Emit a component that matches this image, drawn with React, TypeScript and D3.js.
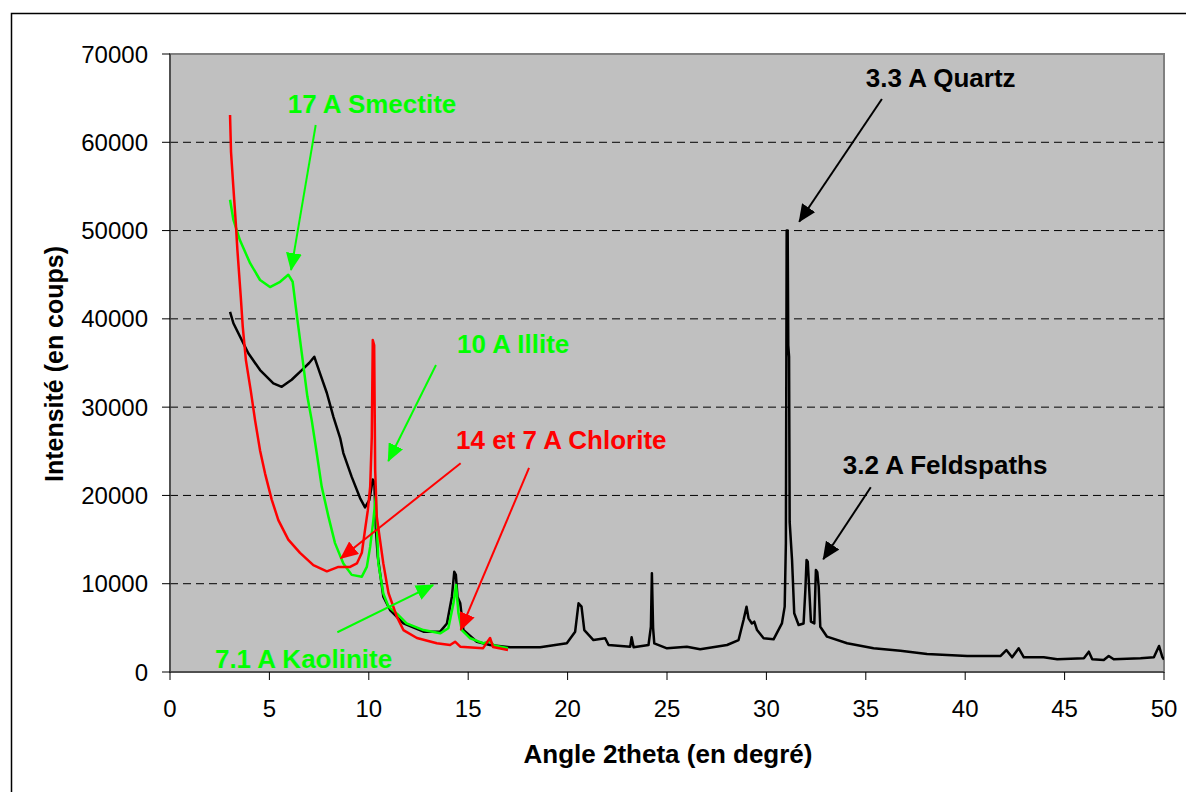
import React from 'react';
import * as d3 from 'd3';

const xTicks = [0, 5, 10, 15, 20, 25, 30, 35, 40, 45, 50];
const yTicks = [0, 10000, 20000, 30000, 40000, 50000, 60000, 70000];

const seriesBlack: [number, number][] = [
  [3.02, 40800], [3.19, 39500], [3.52, 38000], [3.94, 36100], [4.53, 34200], [5.2, 32700], [5.62, 32300],
  [6.12, 33100], [6.63, 34200], [7.0, 35000], [7.26, 35700], [7.55, 33800], [7.89, 31600], [8.22, 28900],
  [8.56, 26500], [8.72, 24800], [9.14, 22100], [9.56, 19700], [9.81, 18650], [10.03, 19500], [10.2, 21800],
  [10.28, 21500], [10.36, 16000], [10.45, 13100], [10.73, 8530], [11.07, 7020], [11.74, 5500], [12.75, 4570],
  [13.59, 4570], [13.93, 5500], [14.18, 8530], [14.3, 11360], [14.38, 11000], [14.46, 8530], [14.6, 7780],
  [14.76, 4750], [15.43, 3430], [16.1, 3060], [17.11, 2800], [18.62, 2800], [19.96, 3250], [20.38, 4570],
  [20.55, 7780], [20.7, 7400], [20.84, 4750], [21.3, 3620], [21.89, 3820], [22.06, 3060], [23.15, 2870],
  [23.22, 3930], [23.32, 2800], [24.07, 3060], [24.19, 5130], [24.24, 11180], [24.3, 5000], [24.36, 3250],
  [25.0, 2680], [26.0, 2870], [26.67, 2570], [28.02, 3060], [28.6, 3620], [28.85, 5890], [29.0, 7400],
  [29.1, 6080], [29.27, 5500], [29.39, 5700], [29.53, 4750], [29.86, 3820], [30.36, 3700], [30.78, 5500],
  [30.92, 7400], [30.98, 14600], [31.02, 50000], [31.07, 50000], [31.1, 37000], [31.14, 35700], [31.17, 17000],
  [31.29, 12700], [31.4, 6650], [31.62, 5320], [31.87, 5500], [31.96, 9290], [32.02, 12690], [32.08, 12500],
  [32.12, 10800], [32.24, 5700], [32.41, 5500], [32.49, 11550], [32.56, 11300], [32.63, 9660], [32.71, 5130],
  [33.05, 4000], [34.06, 3250], [35.39, 2680], [36.74, 2410], [38.08, 2040], [40.1, 1810], [41.77, 1810],
  [42.07, 2490], [42.36, 1660], [42.69, 2680], [42.95, 1660], [43.95, 1660], [44.63, 1440], [45.97, 1550],
  [46.22, 2300], [46.39, 1440], [46.97, 1360], [47.22, 1810], [47.47, 1440], [48.82, 1550], [49.49, 1660],
  [49.75, 2950], [49.91, 1730], [50, 1400],
];

const seriesGreen: [number, number][] = [
  [3.02, 53500], [3.19, 51200], [3.52, 48900], [4.03, 46300], [4.53, 44400], [5.03, 43600], [5.54, 44200],
  [5.95, 45000], [6.17, 44200], [6.37, 40600], [6.63, 36100], [6.91, 31200], [7.13, 28500], [7.38, 24800],
  [7.63, 21000], [7.97, 17600], [8.3, 14600], [8.72, 12300], [9.14, 11000], [9.65, 10800], [9.9, 11900],
  [10.07, 14200], [10.23, 17200], [10.35, 19900], [10.48, 12300], [10.73, 8900], [10.99, 7400], [11.49, 6450],
  [11.9, 5500], [12.75, 4750], [13.59, 4380], [14.0, 4950], [14.26, 7780], [14.39, 9850], [14.51, 6650],
  [14.68, 4750], [15.1, 3820], [15.77, 3250], [16.1, 3500], [16.3, 3000], [17.0, 2680],
];

const seriesRed: [number, number][] = [
  [3.02, 63100], [3.07, 58900], [3.19, 54800], [3.31, 50850], [3.39, 47800], [3.56, 42500], [3.66, 39100],
  [3.82, 35300], [4.06, 31900], [4.28, 28500], [4.53, 25100], [4.78, 22500], [5.12, 19500], [5.45, 17200],
  [5.95, 15000], [6.54, 13500], [7.21, 12100], [7.89, 11400], [8.47, 11900], [9.06, 11900], [9.4, 12300],
  [9.65, 13500], [9.81, 16100], [9.95, 18300], [10.07, 21000], [10.15, 26600], [10.2, 37600], [10.27, 37000],
  [10.32, 22900], [10.4, 17600], [10.73, 12300], [10.99, 8950], [11.41, 6270], [11.74, 4750], [12.42, 3850],
  [13.42, 3250], [14.09, 3060], [14.34, 3430], [14.6, 2870], [15.75, 2700], [16.1, 3850], [16.25, 2830],
  [17.0, 2500],
];

type Note = { text: string; color: string; tx: number; ty: number; arrows: [number, number, number, number][] };
const notes: Note[] = [
  { text: '17 A Smectite', color: '#00FF00', tx: 5.92, ty: 63350, arrows: [[7.33, 61960, 6.09, 45530]] },
  { text: '10 A Illite', color: '#00FF00', tx: 14.44, ty: 36170, arrows: [[13.38, 34770, 10.98, 23900]] },
  { text: '14 et 7 A Chlorite', color: '#FF0000', tx: 14.39, ty: 25220, arrows: [[14.62, 23640, 8.59, 12880], [18.06, 23110, 14.62, 4760]] },
  { text: '7.1 A Kaolinite', color: '#00FF00', tx: 2.26, ty: 490, arrows: [[8.42, 4500, 13.24, 9850]] },
  { text: '3.3 A Quartz', color: '#000000', tx: 35.0, ty: 66230, arrows: [[35.81, 64900, 31.65, 51000]] },
  { text: '3.2 A Feldspaths', color: '#000000', tx: 33.84, ty: 22430, arrows: [[35.25, 20920, 32.86, 12770]] },
];

const FONT = '"Liberation Sans", Arial, Helvetica, sans-serif';

export default function App() {
  const L = 170, R = 1164, T = 54, B = 672;
  const x = d3.scaleLinear().domain([0, 50]).range([L, R]);
  const y = d3.scaleLinear().domain([0, 70000]).range([B, T]);
  const line = d3.line<[number, number]>().x(d => x(d[0])).y(d => y(d[1]));
  const markerId = (c: string) => 'arr' + c.replace('#', '');
  const colors = ['#00FF00', '#FF0000', '#000000'];

  return (
    <svg width={1186} height={792} style={{ position: 'absolute', left: 0, top: 0, background: '#fff' }}>
      <defs>
        {colors.map(c => (
          <marker key={c} id={markerId(c)} viewBox="0 0 18 16" refX={17} refY={8}
            markerWidth={18} markerHeight={16} markerUnits="userSpaceOnUse" orient="auto">
            <path d="M0,0 L18,8 L0,16 Z" fill={c} />
          </marker>
        ))}
        <clipPath id="plotclip">
          <rect x={L} y={T} width={R - L} height={B - T} />
        </clipPath>
      </defs>
      <rect x={11.5} y={13.5} width={1300} height={900} fill="#fff" stroke="#000" strokeWidth={1.5} />
      <rect x={L} y={T} width={R - L} height={B - T} fill="#C0C0C0" stroke="#808080" strokeWidth={2} />
      {yTicks.filter(v => v > 0 && v < 70000).map(v => (
        <line key={v} x1={L} x2={R} y1={y(v)} y2={y(v)} stroke="#000" strokeWidth={1} strokeDasharray="8 5" />
      ))}
      <line x1={L} x2={L} y1={T} y2={B} stroke="#404040" strokeWidth={1.5} />
      <line x1={L} x2={R} y1={B} y2={B} stroke="#404040" strokeWidth={1.5} />
      {yTicks.map(v => (
        <g key={v}>
          <line x1={L - 8} x2={L} y1={y(v)} y2={y(v)} stroke="#000" strokeWidth={1} />
          <text x={148} y={y(v) + 8.5} textAnchor="end" fontFamily={FONT} fontSize={24} fill="#000">{v}</text>
        </g>
      ))}
      {xTicks.map(v => (
        <g key={v}>
          <line x1={x(v)} x2={x(v)} y1={B} y2={B + 8} stroke="#000" strokeWidth={1} />
          <text x={x(v)} y={716.5} textAnchor="middle" fontFamily={FONT} fontSize={24} fill="#000">{v}</text>
        </g>
      ))}
      <text x={668} y={762.5} textAnchor="middle" fontFamily={FONT} fontSize={26} fontWeight="bold" fill="#000">
        Angle 2theta (en degré)
      </text>
      <text transform={`translate(63,${364}) rotate(-90)`} textAnchor="middle" fontFamily={FONT} fontSize={25}
        fontWeight="bold" fill="#000">Intensité (en coups)</text>
      <g clipPath="url(#plotclip)">
        <path d={line(seriesBlack) || ''} fill="none" stroke="#000" strokeWidth={2.5} strokeLinejoin="round" />
        <path d={line(seriesGreen) || ''} fill="none" stroke="#00FF00" strokeWidth={2.5} strokeLinejoin="round" />
        <path d={line(seriesRed) || ''} fill="none" stroke="#FF0000" strokeWidth={2.5} strokeLinejoin="round" />
      </g>
      {notes.map(n => (
        <g key={n.text}>
          <text x={x(n.tx)} y={y(n.ty)} fontFamily={FONT} fontSize={26} fontWeight="bold" fill={n.color}>{n.text}</text>
          {n.arrows.map((a, i) => (
            <line key={i} x1={x(a[0])} y1={y(a[1])} x2={x(a[2])} y2={y(a[3])} stroke={n.color} strokeWidth={2}
              markerEnd={`url(#${markerId(n.color)})`} />
          ))}
        </g>
      ))}
    </svg>
  );
}
